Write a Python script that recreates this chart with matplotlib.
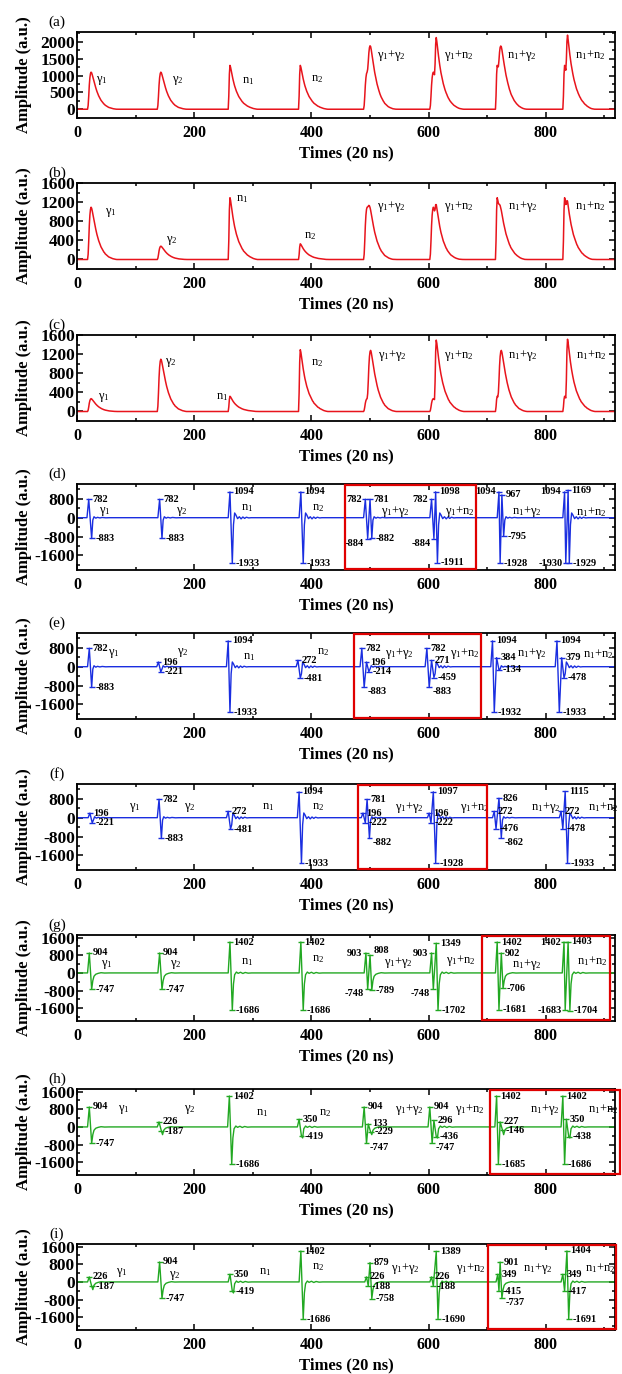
import numpy as np
import matplotlib.pyplot as plt
import matplotlib.transforms as mtransforms
from matplotlib.ticker import MultipleLocator

plt.rcParams['font.family'] = ['Liberation Serif', 'DejaVu Serif']
plt.rcParams['mathtext.fontset'] = 'custom'
plt.rcParams['mathtext.rm'] = 'Liberation Serif'
plt.rcParams['mathtext.it'] = 'Liberation Serif:italic'
plt.rcParams['mathtext.bf'] = 'Liberation Serif:bold'
plt.rcParams['axes.unicode_minus'] = False

NAMES = ['γ$_1$', 'γ$_2$', 'n$_1$', 'n$_2$',
         'γ$_1$+γ$_2$', 'γ$_1$+n$_2$', 'n$_1$+γ$_2$', 'n$_1$+n$_2$']

# pulse shapes, normalised, one sample per time unit
GAMMA_SHAPE = [0, 0.10, 0.35, 0.65, 0.85, 0.96, 1.0, 0.98, 0.93, 0.87,
               0.81, 0.75, 0.69, 0.63, 0.58, 0.53, 0.48, 0.44, 0.40, 0.36,
               0.33, 0.30, 0.27, 0.24, 0.22, 0.20, 0.18, 0.16, 0.14, 0.13,
               0.11, 0.10, 0.09, 0.08, 0.07, 0.06, 0.05, 0.045, 0.04, 0.035,
               0.03, 0.025, 0.02, 0.016, 0.013, 0.01, 0.008, 0.005, 0.003, 0.001, 0]
NEUTRON_SHAPE = [0, 0.30, 0.80, 1.0, 0.96, 0.89, 0.82, 0.75, 0.69, 0.63,
                 0.58, 0.53, 0.49, 0.45, 0.41, 0.38, 0.35, 0.32, 0.29, 0.27,
                 0.25, 0.23, 0.21, 0.19, 0.17, 0.16, 0.14, 0.13, 0.12, 0.11,
                 0.10, 0.09, 0.08, 0.07, 0.065, 0.06, 0.05, 0.045, 0.04, 0.035,
                 0.03, 0.025, 0.02, 0.016, 0.013, 0.01, 0.008, 0.005, 0.003, 0.001, 0]

# components of each pulse (0=γ1, 1=γ2, 2=n1, 3=n2) and their start times
COMPONENTS = [[0], [1], [2], [3], [0, 1], [0, 3], [2, 1], [2, 3]]
STARTS = [[18], [137], [258], [378], [489, 495], [602, 610], [714, 718], [829, 834]]
AMP_A = [1100, 1100, 1300, 1300]
AMP_B = [1100, 280, 1300, 330]
AMP_C = [270, 1100, 320, 1300]

# bipolar panels: times and values of the marked extremes
D_T = [[20, 25], [141, 145], [261, 265], [382, 386], [492, 496, 500, 503],
       [605, 609, 612, 615], [720, 722, 725, 728], [832, 834, 838, 840]]
D_V = [[782, -883], [782, -883], [1094, -1933], [1094, -1933], [782, -884, 781, -882],
       [782, -884, 1098, -1911], [1094, -1928, 967, -795], [1094, -1930, 1169, -1929]]
E_T = [[21, 25], [139, 143], [258, 261], [377, 381], [486, 490, 494, 498],
       [597, 601, 605, 609], [709, 712, 716, 720], [819, 823, 827, 831]]
E_V = [[782, -883], [196, -221], [1094, -1933], [272, -481], [782, -883, 196, -214],
       [782, -883, 271, -459], [1094, -1932, 384, -134], [1094, -1933, 379, -478]]
F_T = [[22, 26], [140, 144], [258, 262], [379, 383], [488, 492, 495, 499],
       [601, 604, 608, 612], [712, 715, 720, 724], [826, 829, 833, 837]]
F_V = [[196, -221], [782, -883], [272, -481], [1094, -1933], [196, -222, 781, -882],
       [196, -222, 1097, -1928], [272, -476, 826, -862], [272, -478, 1115, -1933]]
G_T = [[21, 25], [141, 145], [261, 265], [382, 386], [493, 496, 500, 503],
       [605, 608, 613, 616], [717, 720, 724, 727], [831, 833, 838, 841]]
G_V = [[904, -747], [904, -747], [1402, -1686], [1402, -1686], [903, -748, 808, -789],
       [903, -748, 1349, -1702], [1402, -1681, 902, -706], [1402, -1683, 1403, -1704]]
H_T = [[21, 25], [140, 144], [260, 264], [379, 383], [490, 494, 497, 501],
       [602, 606, 609, 613], [716, 719, 722, 726], [829, 832, 835, 839]]
H_V = [[904, -747], [226, -187], [1402, -1686], [350, -419], [904, -747, 133, -229],
       [904, -747, 296, -436], [1402, -1685, 227, -146], [1402, -1686, 350, -438]]
I_T = [[21, 25], [141, 145], [261, 265], [382, 386], [494, 497, 500, 503],
       [605, 608, 613, 616], [718, 720, 722, 725], [829, 832, 836, 839]]
I_V = [[226, -187], [904, -747], [350, -419], [1402, -1686], [226, -188, 879, -758],
       [226, -188, 1389, -1690], [349, -415, 901, -737], [349, -417, 1404, -1691]]

# ringing after the last extreme (offset, value)
TAIL_KIND = ['g', 'g', 'n', 'n', 'g', 'n', 'g', 'n']
BLUE_TAIL = {'g': ([2, 4, 7, 10, 14, 18, 24, 30], [-100, 40, -20, 15, -10, 10, -5, 0]),
             'n': ([2, 4, 6, 9, 12, 15, 18, 21, 24, 28, 32],
                   [-300, 200, 120, -40, 40, -50, 30, -30, 20, -10, 0])}
GREEN_TAIL = {'g': ([2, 4, 7, 11, 16, 22, 30], [-350, -150, -60, -20, 10, -5, 0]),
              'n': ([2, 4, 7, 10, 14, 18, 22, 27, 33], [-500, -80, 40, -20, 30, -25, 20, -10, 0])}

# label sides for the values (r = right, l = left, b = below, a = above)
SIDES_D = [['r', 'r'], ['r', 'r'], ['r', 'r'], ['r', 'r'], ['l', 'lb', 'r', 'r'],
           ['l', 'lb', 'r', 'r'], ['l', 'r', 'r', 'r'], ['l', 'l', 'r', 'r']]
SIDES_E = [['r', 'r'], ['r', 'r'], ['r', 'r'], ['r', 'r'], ['r', 'rb', 'r', 'r'],
           ['r', 'rb', 'r', 'r'], ['r', 'r', 'r', 'r'], ['r', 'r', 'r', 'r']]
SIDES_F = [['r', 'r'], ['r', 'r'], ['r', 'r'], ['r', 'r'], ['r', 'r', 'r', 'rb'],
           ['r', 'r', 'r', 'r'], ['r', 'r', 'r', 'rb'], ['r', 'r', 'r', 'r']]
SIDES_G = [['r', 'r'], ['r', 'r'], ['r', 'r'], ['r', 'r'], ['l', 'lb', 'ra', 'r'],
           ['l', 'lb', 'r', 'r'], ['r', 'r', 'r', 'r'], ['l', 'l', 'r', 'r']]
SIDES_H = [['r', 'r'], ['r', 'r'], ['r', 'r'], ['r', 'r'], ['r', 'rb', 'r', 'r'],
           ['r', 'rb', 'r', 'r'], ['r', 'r', 'r', 'r'], ['r', 'r', 'r', 'r']]
SIDES_I = [['r', 'r'], ['r', 'r'], ['r', 'r'], ['r', 'r'], ['r', 'r', 'r', 'r'],
           ['r', 'r', 'r', 'r'], ['r', 'r', 'r', 'rb'], ['r', 'r', 'r', 'r']]

# centres of the pulse names
NAME_X = {'a': [43, 172, 292, 410, 537, 651, 759, 875],
          'b': [58, 162, 282, 397, 537, 651, 760, 876],
          'c': [45, 160, 248, 409, 538, 651, 760, 877],
          'd': [47, 179, 290, 411, 544, 653, 767, 877],
          'e': [62, 181, 294, 420, 550, 662, 776, 889],
          'f': [99, 193, 326, 411, 568, 679, 800, 898],
          'g': [50, 169, 290, 411, 548, 655, 768, 879],
          'h': [79, 193, 316, 423, 568, 670, 798, 898],
          'i': [76, 166, 321, 411, 561, 672, 787, 893]}
NAME_Y = {'a': [850, 850, 850, 900, 1600, 1600, 1600, 1600],
          'b': [980, 405, 1270, 490, 1120, 1120, 1120, 1120],
          'c': [295, 1030, 295, 1017, 1180, 1180, 1180, 1180],
          'd': [250, 250, 420, 420, 250, 250, 250, 250],
          'e': [550, 620, 400, 610, 550, 550, 550, 550],
          'f': [450, 450, 450, 450, 450, 450, 450, 450],
          'g': [400, 400, 500, 640, 470, 545, 400, 545],
          'h': [800, 800, 650, 650, 800, 800, 800, 800],
          'i': [420, 310, 465, 670, 620, 620, 620, 620]}

BOXES = {'d': (457, 680), 'e': (473, 690), 'f': (479, 699),
         'g': (691, 909), 'h': (705, 926), 'i': (701, 919)}

RED = '#e8141c'
BLUE = '#1a2ee0'
GREEN = '#22a822'

W, H = 622, 1374
fig = plt.figure(figsize=(W / 100, H / 100), dpi=100)
tops = [32, 183, 335, 484, 633, 784, 935, 1089, 1244]
ax_h = 86


def make_axes(top, letter):
    ax = fig.add_axes([77 / W, 1 - (top + ax_h) / H, 538 / W, ax_h / H])
    ax.set_xlim(0, 918)
    ax.xaxis.set_major_locator(MultipleLocator(200))
    ax.xaxis.set_minor_locator(MultipleLocator(100))
    ax.tick_params(which='both', direction='in', top=True, right=True, width=1.1)
    ax.tick_params(which='major', length=4.5)
    ax.tick_params(which='minor', length=2.5)
    ax.tick_params(axis='x', pad=5)
    ax.tick_params(axis='y', pad=1.5)
    for sp in ax.spines.values():
        sp.set_linewidth(1.3)
    ax.set_xlabel('Times (20 ns)', fontsize=12, fontweight='bold', labelpad=3)
    ax.set_ylabel('Amplitude (a.u.)', fontsize=12, fontweight='bold')
    ax.yaxis.set_label_coords(-0.083, 0.5)
    ax.text(-0.037, 1.04, '(%s)' % letter, transform=ax.transAxes, fontsize=11,
            ha='center', va='bottom')
    return ax


def style_ticks(ax):
    for lab in ax.get_xticklabels():
        lab.set_fontweight('bold')
        lab.set_fontsize(11.5)
    for lab in ax.get_yticklabels():
        lab.set_fontweight('bold')
        lab.set_fontsize(12.5)


def put_names(ax, letter, size=9):
    for name, x, y in zip(NAMES, NAME_X[letter], NAME_Y[letter]):
        ax.text(x, y, name, fontsize=size, ha='center', va='center')


# ---- unipolar panels ----
t = np.arange(0, 919)
for top, letter, amps in zip(tops[:3], 'abc', [AMP_A, AMP_B, AMP_C]):
    ax = make_axes(top, letter)
    y = np.zeros(len(t))
    for comp, starts in zip(COMPONENTS, STARTS):
        for c, s in zip(comp, starts):
            shape = GAMMA_SHAPE if c < 2 else NEUTRON_SHAPE
            y[s:s + len(shape)] += amps[c] * np.array(shape)
    ax.plot(t, y, color=RED, lw=1.1)
    if letter == 'a':
        ax.set_ylim(-260, 2290)
        ax.yaxis.set_major_locator(MultipleLocator(500))
        ax.yaxis.set_minor_locator(MultipleLocator(250))
    else:
        ax.set_ylim(-200, 1610)
        ax.yaxis.set_major_locator(MultipleLocator(400))
        ax.yaxis.set_minor_locator(MultipleLocator(200))
    style_ticks(ax)
    put_names(ax, letter)

# ---- bipolar panels ----
bip = [('d', D_T, D_V, SIDES_D, BLUE, BLUE_TAIL), ('e', E_T, E_V, SIDES_E, BLUE, BLUE_TAIL),
       ('f', F_T, F_V, SIDES_F, BLUE, BLUE_TAIL), ('g', G_T, G_V, SIDES_G, GREEN, GREEN_TAIL),
       ('h', H_T, H_V, SIDES_H, GREEN, GREEN_TAIL), ('i', I_T, I_V, SIDES_I, GREEN, GREEN_TAIL)]
for top, (letter, TT, VV, SS, col, tails) in zip(tops[3:], bip):
    ax = make_axes(top, letter)
    xs, ys = [0], [0]
    for ts, vs, kind in zip(TT, VV, TAIL_KIND):
        xs += [ts[0] - 3] + ts
        ys += [0] + vs
        toff, tval = tails[kind]
        xs += [ts[-1] + o for o in toff]
        ys += tval
    xs.append(918)
    ys.append(0)
    ax.plot(xs, ys, color=col, lw=1.0)
    for ts, vs, sides in zip(TT, VV, SS):
        ax.hlines(vs, np.array(ts) - 5, np.array(ts) + 5, color=col, lw=1.0)
        for tt, v, s in zip(ts, vs, sides):
            dx = 6 if s[0] == 'r' else -6
            ha = 'left' if s[0] == 'r' else 'right'
            va = 'top' if 'b' in s else ('bottom' if 'a' in s else 'center')
            ax.text(tt + dx, v, str(v), fontsize=7.5, fontweight='bold',
                    ha=ha, va=va)
    if letter in 'def':
        ax.set_ylim(-2220, 1430)
        ax.set_yticks([-1600, -800, 0, 800])
    else:
        ax.set_ylim(-2180, 1720)
        ax.set_yticks([-1600, -800, 0, 800, 1600])
    ax.yaxis.set_minor_locator(MultipleLocator(400))
    style_ticks(ax)
    put_names(ax, letter, 9)
    x0, x1 = BOXES[letter]
    trans = mtransforms.blended_transform_factory(ax.transData, ax.transAxes)
    ax.add_patch(plt.Rectangle((x0, 0.01), x1 - x0, 0.98, transform=trans, fill=False,
                               edgecolor='#e00000', lw=1.6, clip_on=False, zorder=5))

fig.savefig('out.png', dpi=100)
